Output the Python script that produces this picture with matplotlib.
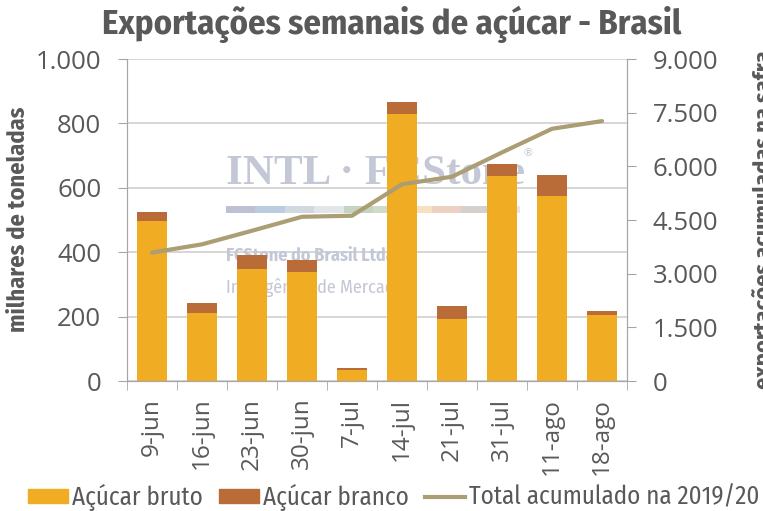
import numpy as np
import matplotlib
matplotlib.use("Agg")
import matplotlib.pyplot as plt
from matplotlib.ticker import FuncFormatter, FixedLocator
from matplotlib.patches import Patch
from matplotlib.lines import Line2D

semanas = ["9-jun", "16-jun", "23-jun", "30-jun", "7-jul", "14-jul",
           "21-jul", "31-jul", "11-ago", "18-ago"]
acucar_bruto = [497, 212, 348, 338, 34, 829, 194, 637, 575, 204]
acucar_branco = [28, 29, 42, 38, 5, 37, 38, 37, 66, 13]
total_acumulado = [3590, 3820, 4200, 4590, 4620, 5500, 5710, 6390, 7050, 7265]

cinza = "#595959"
cor_bruto = "#F0AC23"
cor_branco = "#B96C38"
cor_linha = "#AB9D74"
fonte = "Fira Sans Condensed"
fonte_eixo = "Open Sans"

fig = plt.figure(figsize=(7.63, 5.11), dpi=100)
ax = fig.add_axes([0.1664, 0.2544, 0.6554, 0.6301])
ax2 = ax.twinx()

x = np.arange(len(semanas))
ax.bar(x, acucar_bruto, width=0.6, color=cor_bruto, zorder=2)
ax.bar(x, acucar_branco, width=0.6, bottom=acucar_bruto, color=cor_branco, zorder=2)
ax2.plot(x, total_acumulado, color=cor_linha, lw=3, solid_capstyle="round")

ax.set_xlim(-0.5, len(semanas) - 0.5)
ax.set_ylim(0, 1000)
ax2.set_ylim(0, 9000)
ax.set_yticks(range(0, 1001, 200))
ax2.set_yticks(range(0, 9001, 1500))

fmt = FuncFormatter(lambda v, p: f"{int(v):,}".replace(",", "."))
ax.yaxis.set_major_formatter(fmt)
ax2.yaxis.set_major_formatter(fmt)

ax.set_xticks(x)
ax.set_xticklabels(semanas, rotation=90, fontsize=17.5, color=cinza, family=fonte_eixo)
ax.xaxis.set_minor_locator(FixedLocator(np.arange(-0.5, len(semanas), 1)))
ax.tick_params(axis="x", which="major", length=0, pad=12)
ax.tick_params(axis="x", which="minor", length=6.5, color="#A6A6A6")
for a in (ax, ax2):
    a.tick_params(axis="y", length=6.5, color="#A6A6A6", labelsize=18.5, labelcolor=cinza, pad=12)
    for t in a.get_yticklabels():
        t.set_family(fonte_eixo)
    for s in a.spines.values():
        s.set_color("#A6A6A6")
    a.spines["top"].set_visible(False)

ax.grid(axis="y", color="#D0D0D0", lw=1.2)
ax.set_axisbelow(True)

# marca d'agua do logo (atras das barras)
wm = "#C3C7D6"
ax.text(0.198, 0.584, "INTL · FCStone", transform=ax.transAxes, fontsize=31, va="bottom",
        family="Liberation Serif", weight="bold", color=wm, zorder=1)
ax.text(0.79, 0.70, "®", transform=ax.transAxes, fontsize=8, color=wm, zorder=1)
ax.text(0.198, 0.388, "FCStone do Brasil Ltda", transform=ax.transAxes, fontsize=13,
        va="center", family=fonte, weight="bold", color=wm, zorder=1)
ax.text(0.198, 0.289, "Inteligência de Mercado", transform=ax.transAxes, fontsize=13,
        va="center", family=fonte, color=wm, zorder=1)
faixa = ["#BDC1D3", "#B9CCE0", "#D2D8E0", "#E3E6E8", "#C5D4C0", "#D0DCC8",
         "#F6E2BF", "#EDD0C2", "#D3D0CD", "#E6E6E6"]
for i, c in enumerate(faixa):
    ax.axhspan(522, 543, xmin=0.198 + i * 0.0588, xmax=0.198 + (i + 1) * 0.0588,
               color=c, lw=0, zorder=1)

fig.text(0.514, 0.953, "Exportações semanais de açúcar - Brasil", ha="center", va="center",
         fontsize=25, weight="bold", color=cinza, family=fonte)
fig.text(0.024, 0.57, "milhares de toneladas", rotation=90, ha="center", va="center",
         fontsize=17.5, weight="bold", color=cinza, family=fonte)
fig.text(0.9856, 0.57, "exportações acumuladas na safra", rotation=90, ha="left", va="center",
         fontsize=17.5, weight="bold", color=cinza, family=fonte)

handles = [Patch(color=cor_bruto), Patch(color=cor_branco), Line2D([], [], color=cor_linha, lw=3)]
fig.legend(handles, ["Açúcar bruto", "Açúcar branco", "Total acumulado na 2019/20"],
           loc="center", bbox_to_anchor=(0.516, 0.027), ncol=3, frameon=False,
           prop={"family": fonte, "size": 18}, labelcolor=cinza,
           handlelength=1.6, handleheight=0.45, handletextpad=0.15, columnspacing=0.65)

fig.savefig("out.png", dpi=100)
